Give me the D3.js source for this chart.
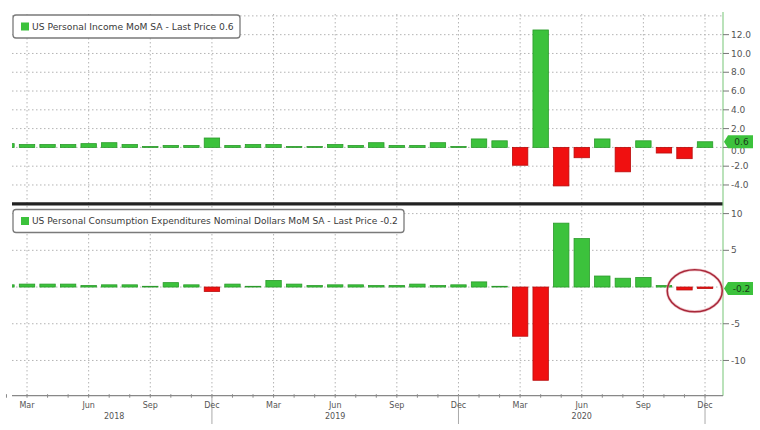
<!DOCTYPE html>
<html><head><meta charset="utf-8">
<script src="https://cdn.jsdelivr.net/npm/d3@7"></script>
<style>body{margin:0;background:#fff}svg{display:block}</style>
</head><body><svg id="c" width="760" height="430"></svg>
<script>
// ---------- data ----------
const months = [
  "2018-02","2018-03","2018-04","2018-05","2018-06","2018-07","2018-08","2018-09","2018-10","2018-11","2018-12",
  "2019-01","2019-02","2019-03","2019-04","2019-05","2019-06","2019-07","2019-08","2019-09","2019-10","2019-11","2019-12",
  "2020-01","2020-02","2020-03","2020-04","2020-05","2020-06","2020-07","2020-08","2020-09","2020-10","2020-11","2020-12"
];
const income = [
  0.4, 0.3, 0.3, 0.3, 0.4, 0.5, 0.3, 0.1, 0.2, 0.2, 1.0,
  0.2, 0.3, 0.3, 0.1, 0.1, 0.3, 0.2, 0.5, 0.2, 0.2, 0.5, 0.1,
  0.9, 0.7, -1.9, 12.5, -4.1, -1.1, 0.9, -2.6, 0.7, -0.6, -1.2, 0.6
];
const pce = [
  0.3, 0.4, 0.4, 0.4, 0.2, 0.3, 0.3, 0.1, 0.6, 0.3, -0.6,
  0.4, 0.1, 0.9, 0.4, 0.2, 0.3, 0.3, 0.2, 0.2, 0.4, 0.2, 0.3,
  0.7, 0.1, -6.7, -12.7, 8.7, 6.6, 1.5, 1.2, 1.3, 0.2, -0.4, -0.2
];
const incomeTicks = [12, 10, 8, 6, 4, 2, 0, -2, -4];
const incomeGrid = [14, 12, 10, 8, 6, 4, 2, 0, -2, -4];
const pceTicks = [10, 5, -5, -10];
const pceGrid = [10, 5, 0, -5, -10];
const quarterMonths = ["2018-03","2018-06","2018-09","2018-12","2019-03","2019-06","2019-09","2019-12","2020-03","2020-06","2020-09","2020-12"];
const yearMonths = ["2018-12","2019-12","2020-12"];
const yearLabels = [["2018","2018-07"],["2019","2019-06"],["2020","2020-06"]];
const incomeTitle = "US Personal Income MoM SA - Last Price 0.6";
const pceTitle = "US Personal Consumption Expenditures Nominal Dollars MoM SA - Last Price -0.2";
const incomeLast = 0.6, pceLast = -0.2;
const circledMonths = ["2020-11","2020-12"];

// ---------- layout ----------
const svg = d3.select("#c");
const L = 12, R = 722, axisX = 723;
const topP = {y0: 14, y1: 200};
const botP = {y0: 207, y1: 395.7};
const GREEN = "#3cc23c", GREEN_S = "#2a9a2a", RED = "#f01010", RED_S = "#b80c0c";
const FONT = "DejaVu Sans, Verdana, sans-serif";

const x = d3.scaleBand().domain(months).range([-3.8, 715.3]).paddingInner(0.25).paddingOuter(0.125);
const cx = m => x(m) + x.bandwidth() / 2;
const yT = d3.scaleLinear().domain([-5.6, 14.2]).range([topP.y1, topP.y0]);
const yB = d3.scaleLinear().domain([-14.8, 10.9]).range([botP.y1, botP.y0]);
const fmtMinus = s => s.replace("\u2212", "-");

svg.append("defs").append("clipPath").attr("id", "clip")
  .append("rect").attr("x", L).attr("y", 0).attr("width", R - L).attr("height", 430);

const grid = svg.append("g").attr("stroke", "#b4b4b4").attr("stroke-dasharray", "1.5,2.5").attr("stroke-width", 1);
grid.selectAll(".ht").data(incomeGrid).join("line")
  .attr("x1", L).attr("x2", R).attr("y1", d => yT(d)).attr("y2", d => yT(d));
grid.selectAll(".hb").data(pceGrid).join("line").attr("class", "hb")
  .attr("x1", L).attr("x2", R).attr("y1", d => yB(d)).attr("y2", d => yB(d));
grid.selectAll(".v").data(quarterMonths).join("line").attr("class", "v")
  .attr("x1", d => cx(d)).attr("x2", d => cx(d)).attr("y1", topP.y0).attr("y2", botP.y1);

// bars
const plot = svg.append("g").attr("clip-path", "url(#clip)");
function bars(vals, y) {
  plot.append("g").selectAll("rect").data(months).join("rect")
    .attr("x", (m) => x(m))
    .attr("width", x.bandwidth())
    .attr("y", (m, i) => Math.min(y(vals[i]), y(0)))
    .attr("height", (m, i) => Math.max(0.6, Math.abs(y(vals[i]) - y(0))))
    .attr("fill", (m, i) => vals[i] >= 0 ? GREEN : RED)
    .attr("stroke", (m, i) => vals[i] >= 0 ? GREEN_S : RED_S)
    .attr("stroke-width", 0.8);
}
bars(income, yT);
bars(pce, yB);

// separator between panels
svg.append("line").attr("x1", L).attr("x2", R + 1).attr("y1", 203.8).attr("y2", 203.8)
  .attr("stroke", "#222").attr("stroke-width", 3.2);

// right axis
svg.append("line").attr("x1", axisX).attr("x2", axisX).attr("y1", topP.y0 - 2).attr("y2", botP.y1)
  .attr("stroke", "#8ccf8c").attr("stroke-width", 1.2);
function rightAxis(ticks, y, fmt) {
  const g = svg.append("g");
  g.selectAll("line").data(ticks).join("line")
    .attr("x1", axisX).attr("x2", axisX + 6).attr("y1", d => y(d)).attr("y2", d => y(d))
    .attr("stroke", "#777").attr("stroke-width", 1);
  g.selectAll("text").data(ticks).join("text")
    .attr("x", axisX + 8).attr("y", d => y(d) + (d === 0 ? 3 : 0)).attr("dy", "0.35em")
    .attr("font-family", FONT).attr("font-size", 9).attr("fill", "#555")
    .text(d => fmtMinus(fmt(d)));
}
rightAxis(incomeTicks, yT, d3.format(".1f"));
rightAxis(pceTicks, yB, d3.format("d"));

// last price tags
function tag(v, y, label) {
  const yy = y(v), h = 13, x0 = axisX + 1, x1 = axisX + 5, x2 = 753;
  svg.append("path")
    .attr("d", `M${x0},${yy} L${x1},${yy - h / 2} L${x2},${yy - h / 2} L${x2},${yy + h / 2} L${x1},${yy + h / 2} Z`)
    .attr("fill", GREEN);
  svg.append("text").attr("x", (x1 + x2) / 2 + 1).attr("y", yy).attr("dy", "0.35em")
    .attr("text-anchor", "middle").attr("font-family", FONT).attr("font-size", 9).attr("fill", "#1a3a1a")
    .text(label);
}
tag(incomeLast, yT, "0.6");
tag(pceLast, yB, "-0.2");

// x axis
const xa = svg.append("g");
xa.append("line").attr("x1", L).attr("x2", axisX).attr("y1", botP.y1).attr("y2", botP.y1)
  .attr("stroke", "#888").attr("stroke-width", 1.2);
xa.selectAll(".mt").data(months).join("line").attr("class", "mt")
  .attr("x1", d => cx(d)).attr("x2", d => cx(d)).attr("y1", botP.y1 - 1.5).attr("y2", botP.y1 + 2)
  .attr("stroke", "#888");
xa.selectAll(".yl").data(yearMonths).join("line").attr("class", "yl")
  .attr("x1", d => cx(d)).attr("x2", d => cx(d)).attr("y1", botP.y1).attr("y2", 424)
  .attr("stroke", "#aaa");
const monthFmt = d3.timeFormat("%b"), parseM = d3.timeParse("%Y-%m");
xa.selectAll(".ql").data(quarterMonths).join("text").attr("class", "ql")
  .attr("x", d => cx(d)).attr("y", 407.5).attr("text-anchor", "middle")
  .attr("font-family", FONT).attr("font-size", 8).attr("fill", "#555")
  .text(d => monthFmt(parseM(d)));
xa.selectAll(".yr").data(yearLabels).join("text").attr("class", "yr")
  .attr("x", d => cx(d[1]) + (d[0] === "2018" ? 5 : 0)).attr("y", 419).attr("text-anchor", "middle")
  .attr("font-family", FONT).attr("font-size", 8).attr("fill", "#555")
  .text(d => d[0]);

// legends
function legend(title, yTop, targetW) {
  const g = svg.append("g");
  const box = g.append("rect").attr("x", 13).attr("y", yTop).attr("height", 23).attr("rx", 3)
    .attr("fill", "#fff").attr("stroke", "#7a7a7a").attr("stroke-width", 1.3);
  g.append("rect").attr("x", 21).attr("y", yTop + 7.5).attr("width", 8).attr("height", 8).attr("fill", GREEN);
  const t = g.append("text").attr("x", 32).attr("y", yTop + 11.5).attr("dy", "0.35em")
    .attr("font-family", FONT).attr("font-size", 10).attr("fill", "#3a3a3a").text(title);
  const w = t.node().getComputedTextLength();
  t.attr("font-size", 10 * targetW / w);
  box.attr("width", 32 + targetW + 6 - 13);
}
legend(incomeTitle, 15, 202);
legend(pceTitle, 209.5, 366);

// red circle annotation
const ccx = (cx(circledMonths[0]) + cx(circledMonths[1])) / 2;
svg.append("ellipse").attr("cx", ccx).attr("cy", yB(-0.5)).attr("rx", 27.5).attr("ry", 21)
  .attr("fill", "none").attr("stroke", "#e8a0a8").attr("stroke-width", 3).attr("opacity", 0.6);
svg.append("ellipse").attr("cx", ccx).attr("cy", yB(-0.5)).attr("rx", 27.5).attr("ry", 21)
  .attr("fill", "none").attr("stroke", "#a8283a").attr("stroke-width", 1.5);
</script></body></html>
